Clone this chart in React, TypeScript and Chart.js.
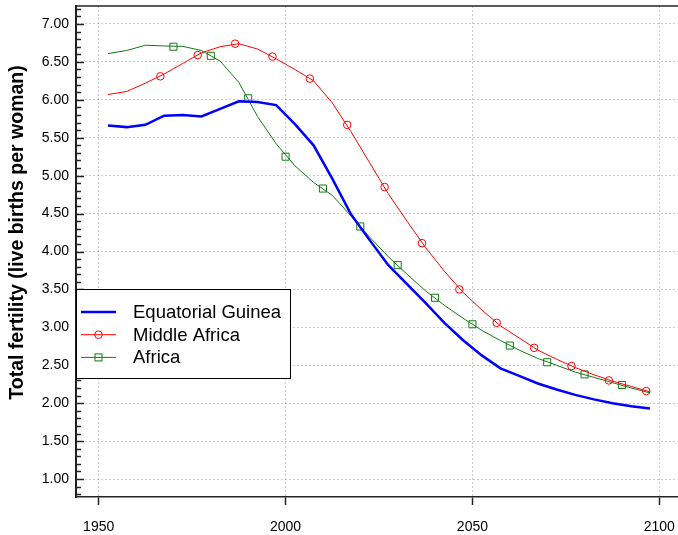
import React, { useEffect, useRef } from "react";
import { Chart, registerables } from "chart.js";

Chart.register(...registerables);

// ---- data ----
const periodYears = [
  1952.5, 1957.5, 1962.5, 1967.5, 1972.5, 1977.5, 1982.5, 1987.5, 1992.5, 1997.5,
  2002.5, 2007.5, 2012.5, 2017.5, 2022.5, 2027.5, 2032.5, 2037.5, 2042.5, 2047.5,
  2052.5, 2057.5, 2062.5, 2067.5, 2072.5, 2077.5, 2082.5, 2087.5, 2092.5, 2097.5,
];
const equatorialGuinea = [
  5.66, 5.64, 5.67, 5.79, 5.8, 5.78, 5.88, 5.98, 5.97, 5.93,
  5.68, 5.4, 4.96, 4.49, 4.15, 3.82, 3.57, 3.32, 3.06, 2.83,
  2.63, 2.46, 2.36, 2.26, 2.18, 2.11, 2.05, 2.0, 1.96, 1.93,
];
const middleAfrica = [
  6.07, 6.11, 6.22, 6.34, 6.48, 6.62, 6.7, 6.74, 6.67, 6.54,
  6.4, 6.25, 5.96, 5.58, 5.17, 4.76, 4.4, 4.05, 3.74, 3.46,
  3.23, 3.02, 2.86, 2.7, 2.58, 2.47, 2.375, 2.29, 2.22, 2.15,
];
const africa = [
  6.61, 6.65, 6.72, 6.71, 6.705, 6.65, 6.51, 6.23, 5.78, 5.42,
  5.13, 4.91, 4.74, 4.47, 4.19, 3.93, 3.7, 3.48, 3.29, 3.12,
  2.96, 2.825, 2.7, 2.59, 2.5, 2.41, 2.34, 2.27, 2.2, 2.135,
];
const middleAfricaMarkerYears = [
  1966.5, 1976.5, 1986.5, 1996.5, 2006.5, 2016.5, 2026.5,
  2036.5, 2046.5, 2056.5, 2066.5, 2076.5, 2086.5, 2096.5,
];
const middleAfricaMarkerValues = [
  6.31, 6.59, 6.74, 6.57, 6.28, 5.67, 4.85, 4.11, 3.5, 3.06, 2.73, 2.49, 2.3, 2.16,
];
const africaMarkerYears = [
  1970, 1980, 1990, 2000, 2010, 2020, 2030, 2040, 2050, 2060, 2070, 2080, 2090,
];
const africaMarkerValues = [
  6.7, 6.58, 6.02, 5.25, 4.83, 4.33, 3.82, 3.39, 3.04, 2.76, 2.54, 2.38, 2.24,
];
const xTickValues = [1950, 2000, 2050, 2100];
const yTickValues = [1, 1.5, 2, 2.5, 3, 3.5, 4, 4.5, 5, 5.5, 6, 6.5, 7];
const seriesNames = ["Equatorial Guinea", "Middle Africa", "Africa"];
const yAxisTitle = "Total fertility (live births per woman)";

const FONT = "'Liberation Sans', Arial, Helvetica, sans-serif";
const BLUE = "#0000ff";
const RED = "#ff0000";
const GREEN = "#137a13";
const AXIS = "#222222";

const pts = (xs: number[], ys: number[]) => xs.map((x, i) => ({ x, y: ys[i] }));

// make the plot area reach the right edge of the canvas
const fixLayout = {
  id: "fixLayout",
  afterLayout(chart: any) {
    const R = chart.width;
    const x = chart.scales.x;
    x.right = R;
    x.width = R - x.left;
    x.configure();
    chart.chartArea.right = R;
    chart.chartArea.width = R - chart.chartArea.left;
  },
};

const axisDecor = {
  id: "axisDecor",
  afterDraw(chart: any) {
    const { ctx, chartArea } = chart;
    const y = chart.scales.y;
    ctx.save();
    ctx.strokeStyle = AXIS;
    ctx.lineWidth = 1.5;
    ctx.beginPath();
    ctx.moveTo(chartArea.left, chartArea.top);
    ctx.lineTo(chartArea.right, chartArea.top);
    ctx.stroke();
    const lo = Math.ceil(y.min * 10);
    const hi = Math.floor(y.max * 10);
    for (let k = lo; k <= hi; k++) {
      const major = k % 5 === 0;
      const py = Math.round(y.getPixelForValue(k / 10)) + 0.5;
      ctx.beginPath();
      ctx.moveTo(chartArea.left, py);
      ctx.lineTo(chartArea.left + (major ? 8 : 5), py);
      ctx.stroke();
    }
    // y axis title
    ctx.fillStyle = "#000";
    ctx.font = `bold 19.5px ${FONT}`;
    ctx.textAlign = "center";
    ctx.textBaseline = "middle";
    ctx.translate(17.5, 232.5);
    ctx.rotate(-Math.PI / 2);
    ctx.fillText(yAxisTitle, 0, 0);
    ctx.restore();
  },
};

const legendBox = {
  id: "legendBox",
  afterDraw(chart: any) {
    const { ctx } = chart;
    const bx = 76.5, by = 289.5, bw = 214, bh = 89;
    ctx.save();
    ctx.fillStyle = "#ffffff";
    ctx.fillRect(bx, by, bw, bh);
    ctx.strokeStyle = "#000";
    ctx.lineWidth = 1;
    ctx.strokeRect(bx, by, bw, bh);
    const rows = [
      { name: seriesNames[0], color: BLUE, width: 2.5, marker: "" },
      { name: seriesNames[1], color: RED, width: 1, marker: "circle" },
      { name: seriesNames[2], color: GREEN, width: 1, marker: "rect" },
    ];
    rows.forEach((r, i) => {
      const ly = 312 + i * 22.7;
      ctx.strokeStyle = r.color;
      ctx.lineWidth = r.width;
      ctx.beginPath();
      ctx.moveTo(81, ly);
      ctx.lineTo(116, ly);
      ctx.stroke();
      ctx.lineWidth = 1;
      if (r.marker === "circle") {
        ctx.beginPath();
        ctx.arc(98.5, ly, 3.8, 0, Math.PI * 2);
        ctx.stroke();
      } else if (r.marker === "rect") {
        ctx.strokeRect(98.5 - 3.5, ly - 3.5, 7, 7);
      }
      ctx.fillStyle = "#000";
      ctx.font = `18.5px ${FONT}`;
      ctx.textBaseline = "middle";
      ctx.textAlign = "left";
      ctx.fillText(r.name, 133, ly + 1);
    });
    ctx.restore();
  },
};

export default function App() {
  const ref = useRef<HTMLCanvasElement | null>(null);
  useEffect(() => {
    if (!ref.current) return;
    const chart = new Chart(ref.current, {
      type: "line",
      data: {
        datasets: [
          {
            label: seriesNames[0],
            data: pts(periodYears, equatorialGuinea),
            borderColor: BLUE,
            borderWidth: 2.5,
            pointRadius: 0,
            tension: 0,
          },
          {
            label: seriesNames[1],
            data: pts(periodYears, middleAfrica),
            borderColor: RED,
            borderWidth: 1,
            pointRadius: 0,
          },
          {
            label: seriesNames[1] + " markers",
            data: pts(middleAfricaMarkerYears, middleAfricaMarkerValues),
            showLine: false,
            pointStyle: "circle",
            pointRadius: 3.8,
            pointBorderWidth: 1,
            pointBorderColor: RED,
            pointBackgroundColor: "rgba(0,0,0,0)",
          },
          {
            label: seriesNames[2],
            data: pts(periodYears, africa),
            borderColor: GREEN,
            borderWidth: 1,
            pointRadius: 0,
          },
          {
            label: seriesNames[2] + " markers",
            data: pts(africaMarkerYears, africaMarkerValues),
            showLine: false,
            pointStyle: "rect",
            pointRadius: 5,
            pointBorderWidth: 1,
            pointBorderColor: GREEN,
            pointBackgroundColor: "rgba(0,0,0,0)",
          },
        ],
      },
      options: {
        responsive: false,
        animation: false,
        events: [],
        layout: { padding: { top: 6, right: 0, left: 0, bottom: 0 } },
        plugins: { legend: { display: false }, tooltip: { enabled: false }, title: { display: false } },
        scales: {
          x: {
            type: "linear",
            min: 1943.93,
            max: 2105,
            afterBuildTicks: (s: any) => {
              s.ticks = xTickValues.map((v) => ({ value: v }));
            },
            afterFit: (s: any) => {
              s.height = 38;
              s.paddingLeft = 0;
              s.paddingRight = 0;
            },
            ticks: {
              color: "#000",
              font: { family: FONT, size: 14 },
              padding: 14,
              maxRotation: 0,
              autoSkip: false,
              callback: (v: any) => String(v),
            },
            grid: {
              color: "rgba(0,0,0,0.2)",
              lineWidth: 1,
              drawTicks: true,
              tickLength: 8,
              tickColor: AXIS,
              tickWidth: 1.5,
            },
            border: { display: true, color: AXIS, width: 1.5, dash: [2, 2] },
          },
          y: {
            type: "linear",
            min: 0.763,
            max: 7.237,
            afterBuildTicks: (s: any) => {
              s.ticks = yTickValues.map((v) => ({ value: v }));
            },
            afterFit: (s: any) => {
              s.width = 76;
              s.paddingTop = 0;
              s.paddingBottom = 0;
            },
            ticks: {
              color: "#000",
              font: { family: FONT, size: 14 },
              padding: 7,
              autoSkip: false,
              callback: (v: any) => Number(v).toFixed(2),
            },
            grid: {
              color: "rgba(0,0,0,0.2)",
              lineWidth: 1,
              drawTicks: false,
            },
            border: { display: true, color: AXIS, width: 2, dash: [2, 2] },
            title: { display: false },
          },
        },
      },
      plugins: [fixLayout, axisDecor, legendBox],
    });
    return () => chart.destroy();
  }, []);
  return (
    <div style={{ position: "fixed", left: 0, top: 0, width: 678, height: 535, background: "#fff" }}>
      <canvas ref={ref} width={678} height={535} style={{ display: "block" }} />
    </div>
  );
}
